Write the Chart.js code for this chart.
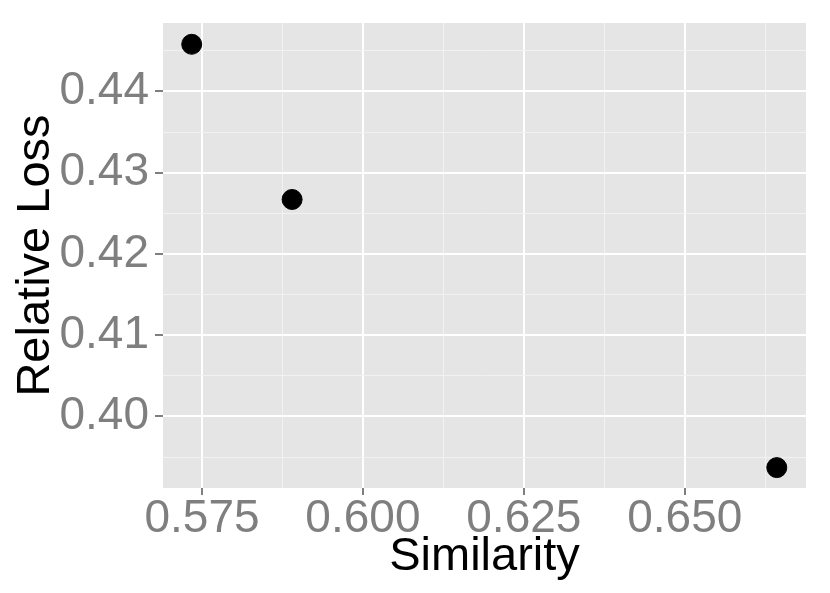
<!DOCTYPE html>
<html>
<head>
<meta charset="utf-8">
<script src="https://cdn.jsdelivr.net/npm/chart.js@4.4.1/dist/chart.umd.min.js"></script>
<style>
  html, body { margin: 0; padding: 0; background: #ffffff; }
  #wrap { width: 830px; height: 593px; }
</style>
</head>
<body>
<div id="wrap"><canvas id="grafico"></canvas></div>
<script>
// Dados
const similaridade = [0.5734, 0.5890, 0.6643];
const perdaRelativa = [0.4458, 0.4267, 0.3937];

const xTicks = [0.575, 0.600, 0.625, 0.650];
const xTickLabels = ['0.575', '0.600', '0.625', '0.650'];
const xMinor = [0.5875, 0.6125, 0.6375, 0.6625];

const yTicks = [0.40, 0.41, 0.42, 0.43, 0.44];
const yTickLabels = ['0.40', '0.41', '0.42', '0.43', '0.44'];
const yMinor = [0.395, 0.405, 0.415, 0.425, 0.435, 0.445];

const xLimites = [0.56894, 0.66884];
const yLimites = [0.39119, 0.44842];

// Funções auxiliares
function montarTicks(principais, rotulos, menores) {
    const lista = principais.map((v, i) => ({ value: v, principal: true, texto: rotulos[i] }));
    menores.forEach(v => lista.push({ value: v, principal: false, texto: '' }));
    return lista.sort((a, b) => a.value - b.value);
}

const fundoPlugin = {
    id: 'fundo',
    beforeDraw(chart) {
        const { ctx, chartArea } = chart;
        ctx.save();
        ctx.fillStyle = '#e5e5e5';
        ctx.fillRect(chartArea.left, chartArea.top, chartArea.right - chartArea.left, chartArea.bottom - chartArea.top);
        ctx.restore();
    }
};

const corGrade = c => (c.tick && c.tick.principal ? '#ffffff' : '#f2f2f2');
const larguraGrade = c => (c.tick && c.tick.principal ? 2 : 1);
const corTick = c => (c.tick && c.tick.principal ? '#7f7f7f' : 'rgba(0,0,0,0)');

const fonteTick = { family: 'Liberation Sans, Arial, sans-serif', size: 46 };
const fonteTitulo = { family: 'Liberation Sans, Arial, sans-serif', size: 47, lineHeight: 1 };

const ctx = document.getElementById('grafico').getContext('2d');

new Chart(ctx, {
    type: 'scatter',
    data: {
        datasets: [{
            data: similaridade.map((x, i) => ({ x: x, y: perdaRelativa[i] })),
            backgroundColor: '#000000',
            borderColor: '#000000',
            pointRadius: 10,
            pointHoverRadius: 10
        }]
    },
    options: {
        responsive: true,
        maintainAspectRatio: false,
        animation: false,
        events: [],
        layout: { padding: { top: 23, right: 24, left: 0, bottom: 0 } },
        plugins: {
            legend: { display: false },
            tooltip: { enabled: false }
        },
        scales: {
            x: {
                type: 'linear',
                min: xLimites[0],
                max: xLimites[1],
                afterBuildTicks: s => { s.ticks = montarTicks(xTicks, xTickLabels, xMinor); },
                afterFit: s => { s.height = 105; s.paddingLeft = 0; s.paddingRight = 0; },
                ticks: {
                    autoSkip: false,
                    maxRotation: 0,
                    padding: -3,
                    color: '#7f7f7f',
                    font: fonteTick,
                    callback: function (valor, i, ticks) { return ticks[i].texto; }
                },
                grid: { color: corGrade, lineWidth: larguraGrade, tickColor: corTick, tickLength: 7, tickWidth: 2 },
                border: { display: false },
                title: { display: true, text: 'Similarity', color: '#000000', font: fonteTitulo, padding: { top: 0, bottom: 12 } }
            },
            y: {
                type: 'linear',
                min: yLimites[0],
                max: yLimites[1],
                afterBuildTicks: s => { s.ticks = montarTicks(yTicks, yTickLabels, yMinor); },
                afterFit: s => { s.width = 163; s.paddingTop = 0; s.paddingBottom = 0; },
                ticks: {
                    autoSkip: false,
                    padding: 6,
                    color: '#7f7f7f',
                    font: fonteTick,
                    callback: function (valor, i, ticks) { return ticks[i].texto; }
                },
                grid: { color: corGrade, lineWidth: larguraGrade, tickColor: corTick, tickLength: 8, tickWidth: 2 },
                border: { display: false },
                title: { display: true, text: 'Relative Loss', color: '#000000', font: fonteTitulo, padding: { top: 13, bottom: 0 } }
            }
        }
    },
    plugins: [fundoPlugin]
});
</script>
</body>
</html>
